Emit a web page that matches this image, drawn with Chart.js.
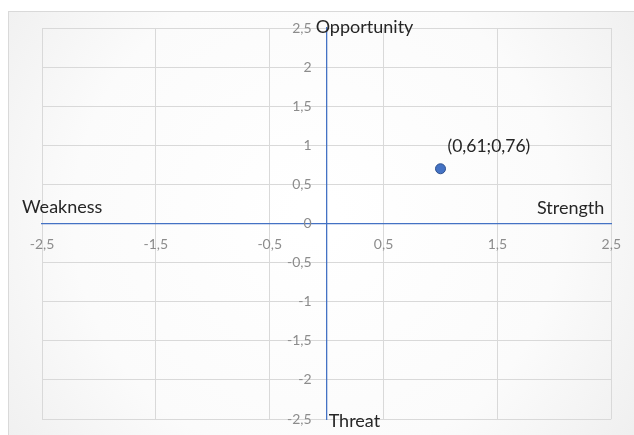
<!DOCTYPE html>
<html>
<head>
<meta charset="utf-8">
<script src="https://cdn.jsdelivr.net/npm/chart.js@4/dist/chart.umd.min.js"></script>
<style>
  html, body { margin: 0; padding: 0; background: #ffffff; }
  #wrap { width: 634px; height: 435px; position: relative; }
</style>
</head>
<body>
<div id="wrap"><canvas id="swotChart"></canvas></div>
<script>
// position of the company on the SWOT matrix
const pointX = [1.0];
const pointY = [0.7];
const pointLabels = ['(0,61;0,76)'];

// axis range and tick steps
const axisMin = -2.5;
const axisMax = 2.5;
const xStep = 1;
const yStep = 0.5;

// quadrant words at the ends of the axes
const axisWords = { left: 'Weakness', right: 'Strength', top: 'Opportunity', bottom: 'Threat' };

const fontFamily = 'Lato, "Open Sans", sans-serif';
const tickColor = '#8c8c8c';

function fmt(v) {
    return String(Math.round(v * 10) / 10).replace('.', ',');
}

const frameBackground = {
    id: 'frameBackground',
    beforeDraw(chart) {
        const ctx = chart.ctx;
        const w = chart.width, h = chart.height;
        ctx.save();
        ctx.fillStyle = '#ffffff';
        ctx.fillRect(0, 0, w, h);
        const g = ctx.createRadialGradient(w * 0.5, h * 0.5, 20, w * 0.5, h * 0.5, w * 0.62);
        g.addColorStop(0, '#ffffff');
        g.addColorStop(0.6, '#fbfbfb');
        g.addColorStop(1, '#efefef');
        ctx.fillStyle = g;
        ctx.fillRect(8, 11, w - 8, h - 11);
        ctx.strokeStyle = '#d9d9d9';
        ctx.lineWidth = 1;
        ctx.strokeRect(8.5, 11.5, w, h);
        ctx.restore();
    }
};

const swotText = {
    id: 'swotText',
    afterDraw(chart) {
        const ctx = chart.ctx;
        const area = chart.chartArea;
        const xs = chart.scales.x, ys = chart.scales.y;
        const x0 = xs.getPixelForValue(0);
        const y0 = ys.getPixelForValue(0);
        ctx.save();

        // y tick labels, left of the vertical axis
        ctx.fillStyle = tickColor;
        ctx.font = '14px ' + fontFamily;
        ctx.textAlign = 'right';
        ctx.textBaseline = 'middle';
        ys.ticks.forEach(function (t) {
            ctx.fillText(fmt(t.value), x0 - 15, ys.getPixelForValue(t.value));
        });

        ctx.fillStyle = '#262626';
        ctx.font = '18px ' + fontFamily;
        ctx.textAlign = 'left';
        ctx.fillText(axisWords.left, area.left - 20, y0 - 16);
        ctx.textAlign = 'right';
        ctx.fillText(axisWords.right, area.right - 7, y0 - 15);
        ctx.textAlign = 'left';
        ctx.fillText(axisWords.top, x0 - 11, area.top - 1);
        ctx.fillText(axisWords.bottom, x0 + 2, area.bottom + 2);

        // data labels
        const meta = chart.getDatasetMeta(0);
        ctx.font = '17.5px ' + fontFamily;
        meta.data.forEach(function (pt, i) {
            ctx.fillText(pointLabels[i], pt.x + 7, pt.y - 22);
        });
        ctx.restore();
    }
};

const points = pointX.map(function (x, i) { return { x: x, y: pointY[i] }; });

new Chart(document.getElementById('swotChart'), {
    type: 'scatter',
    data: {
        datasets: [{
            label: 'SWOT',
            data: points,
            pointRadius: 5,
            pointHoverRadius: 5,
            backgroundColor: '#4472c4',
            borderColor: '#2f528f',
            borderWidth: 1
        }]
    },
    options: {
        responsive: true,
        maintainAspectRatio: false,
        animation: false,
        layout: { padding: { left: 42, right: 20, top: 28, bottom: 16 } },
        plugins: {
            legend: { display: false },
            tooltip: { enabled: false }
        },
        scales: {
            x: {
                type: 'linear',
                min: axisMin,
                max: axisMax,
                position: { y: 0 },
                grid: { color: '#d9d9d9', lineWidth: 1, drawTicks: false },
                border: { color: '#4472c4', width: 1.3 },
                ticks: {
                    stepSize: xStep,
                    padding: 13,
                    color: tickColor,
                    font: { family: fontFamily, size: 14 },
                    maxRotation: 0,
                    autoSkip: false,
                    callback: fmt
                }
            },
            y: {
                type: 'linear',
                min: axisMin,
                max: axisMax,
                position: { x: 0 },
                grid: { color: '#d9d9d9', lineWidth: 1, drawTicks: false },
                border: { color: '#4472c4', width: 1.3 },
                ticks: {
                    stepSize: yStep,
                    display: false,
                    autoSkip: false
                }
            }
        }
    },
    plugins: [frameBackground, swotText]
});
</script>
</body>
</html>
